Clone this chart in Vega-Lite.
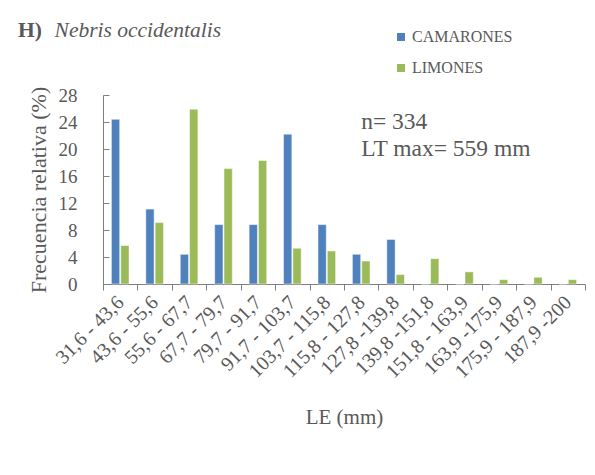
{
  "$schema": "https://vega.github.io/schema/vega-lite/v6.json",
  "width": 482,
  "height": 189,
  "autosize": {"type": "none"},
  "padding": {"left": 103, "top": 95, "right": 10, "bottom": 191},
  "background": "white",
  "config": {
    "font": "Liberation Serif",
    "view": {"stroke": null},
    "axis": {"labelColor": "#595959", "titleColor": "#595959", "domainColor": "#7f7f7f", "tickColor": "#7f7f7f", "grid": false, "titleFontWeight": "normal", "labelFont": "Liberation Serif", "titleFont": "Liberation Serif"}
  },
  "title": {
    "text": "H)",
    "subtitle": "\u200b\u00a0\u00a0\u00a0\u00a0\u00a0\u00a0\u2009Nebris occidentalis",
    "anchor": "start",
    "frame": "group",
    "dx": -85,
    "offset": -12,
    "fontSize": 21.5,
    "fontWeight": "bold",
    "color": "#595959",
    "subtitleFontSize": 21.5,
    "subtitleFontStyle": "italic",
    "subtitleColor": "#595959",
    "subtitlePadding": -21.5,
    "font": "Liberation Serif",
    "subtitleFont": "Liberation Serif"
  },
  "data": {
    "values": [
      {"clase": "31,6 - 43,6", "sitio": "CAMARONES", "frecuencia": 24.4},
      {"clase": "31,6 - 43,6", "sitio": "LIMONES", "frecuencia": 5.7},
      {"clase": "43,6 - 55,6", "sitio": "CAMARONES", "frecuencia": 11.1},
      {"clase": "43,6 - 55,6", "sitio": "LIMONES", "frecuencia": 9.1},
      {"clase": "55,6 - 67,7", "sitio": "CAMARONES", "frecuencia": 4.4},
      {"clase": "55,6 - 67,7", "sitio": "LIMONES", "frecuencia": 25.9},
      {"clase": "67,7 - 79,7", "sitio": "CAMARONES", "frecuencia": 8.8},
      {"clase": "67,7 - 79,7", "sitio": "LIMONES", "frecuencia": 17.1},
      {"clase": "79,7 - 91,7", "sitio": "CAMARONES", "frecuencia": 8.8},
      {"clase": "79,7 - 91,7", "sitio": "LIMONES", "frecuencia": 18.3},
      {"clase": "91,7 - 103,7", "sitio": "CAMARONES", "frecuencia": 22.2},
      {"clase": "91,7 - 103,7", "sitio": "LIMONES", "frecuencia": 5.3},
      {"clase": "103,7 - 115,8", "sitio": "CAMARONES", "frecuencia": 8.8},
      {"clase": "103,7 - 115,8", "sitio": "LIMONES", "frecuencia": 4.9},
      {"clase": "115,8 - 127,8", "sitio": "CAMARONES", "frecuencia": 4.4},
      {"clase": "115,8 - 127,8", "sitio": "LIMONES", "frecuencia": 3.4},
      {"clase": "127,8 -139,8", "sitio": "CAMARONES", "frecuencia": 6.6},
      {"clase": "127,8 -139,8", "sitio": "LIMONES", "frecuencia": 1.4},
      {"clase": "139,8 -151,8", "sitio": "CAMARONES", "frecuencia": 0},
      {"clase": "139,8 -151,8", "sitio": "LIMONES", "frecuencia": 3.75},
      {"clase": "151,8 - 163,9", "sitio": "CAMARONES", "frecuencia": 0},
      {"clase": "151,8 - 163,9", "sitio": "LIMONES", "frecuencia": 1.8},
      {"clase": "163,9 -175,9", "sitio": "CAMARONES", "frecuencia": 0},
      {"clase": "163,9 -175,9", "sitio": "LIMONES", "frecuencia": 0.65},
      {"clase": "175,9 - 187,9", "sitio": "CAMARONES", "frecuencia": 0},
      {"clase": "175,9 - 187,9", "sitio": "LIMONES", "frecuencia": 1.0},
      {"clase": "187,9 -200", "sitio": "CAMARONES", "frecuencia": 0},
      {"clase": "187,9 -200", "sitio": "LIMONES", "frecuencia": 0.65}
    ]
  },
  "layer": [
    {
      "mark": {"type": "bar", "stroke": "white", "strokeWidth": 0.5},
      "encoding": {
        "x": {
          "field": "clase", "type": "nominal", "sort": null,
          "scale": {"paddingInner": 0, "paddingOuter": 0},
          "axis": {
            "title": "LE (mm)", "titleFontSize": 21, "titlePadding": 25,
            "labelAngle": -45, "labelAlign": "right", "labelBaseline": "middle",
            "labelFontSize": 20, "labelPadding": 9, "tickBand": "extent", "tickSize": 6,
            "labelOverlap": false
          }
        },
        "xOffset": {"field": "sitio", "type": "nominal", "scale": {"paddingInner": 0.11, "paddingOuter": 0.9}},
        "y": {
          "field": "frecuencia", "type": "quantitative",
          "scale": {"domain": [0, 28], "nice": false},
          "axis": {
            "title": "Frecuencia relativa (%)", "titleFontSize": 22, "titlePadding": 8,
            "values": [0, 4, 8, 12, 16, 20, 24, 28],
            "labelFontSize": 19, "tickSize": -6, "labelPadding": 32, "ticks": true,
            "labelOverlap": false
          }
        },
        "color": {
          "field": "sitio", "type": "nominal",
          "scale": {"domain": ["CAMARONES", "LIMONES"], "range": ["#4F81BD", "#9BBB59"]},
          "legend": {
            "title": null, "orient": "none", "legendX": 290, "legendY": -66,
            "symbolType": "square", "symbolSize": 64, "symbolStrokeWidth": 0,
            "labelFontSize": 16, "labelColor": "#595959", "labelFont": "Liberation Serif",
            "rowPadding": 15, "labelOffset": 3, "padding": 0
          }
        }
      }
    },
    {
      "data": {"values": [{}]},
      "mark": {"type": "text", "align": "left", "baseline": "alphabetic", "fontSize": 23.5, "color": "#595959", "font": "Liberation Serif", "lineHeight": 27},
      "encoding": {
        "x": {
          "datum": "115,8 - 127,8", "type": "nominal",
          "axis": {
            "title": "LE (mm)", "titleFontSize": 21, "titlePadding": 25,
            "labelAngle": -45, "labelAlign": "right", "labelBaseline": "middle",
            "labelFontSize": 20, "labelPadding": 9, "tickBand": "extent", "tickSize": 6,
            "labelOverlap": false
          }
        },
        "y": {
          "datum": 23, "type": "quantitative",
          "axis": {
            "title": "Frecuencia relativa (%)", "titleFontSize": 22, "titlePadding": 8,
            "values": [0, 4, 8, 12, 16, 20, 24, 28],
            "labelFontSize": 19, "tickSize": -6, "labelPadding": 32, "ticks": true,
            "labelOverlap": false
          }
        },
        "text": {"value": ["n= 334", "LT max= 559 mm"]}
      }
    }
  ]
}
